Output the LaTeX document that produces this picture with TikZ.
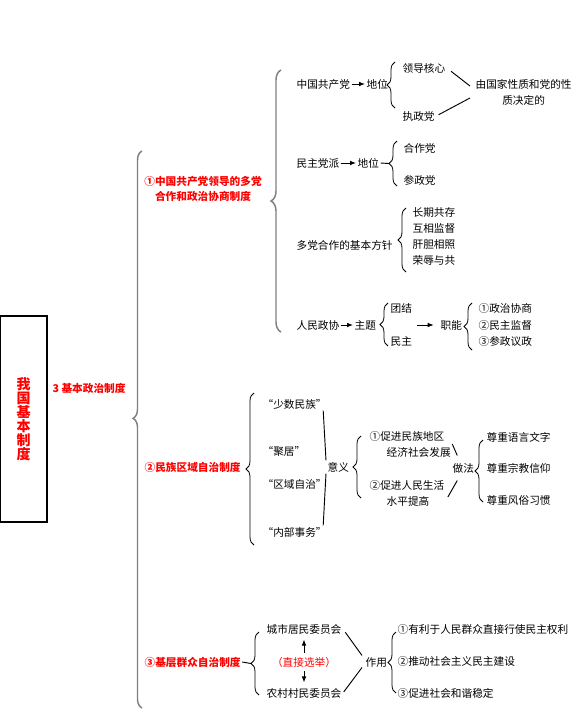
\documentclass[tikz,border=0pt]{standalone}
\usepackage{fontspec}
\setmainfont{Noto Sans CJK SC}
\usetikzlibrary{positioning,calc,arrows.meta,decorations.pathreplacing}
\definecolor{ink}{HTML}{000000}
\definecolor{hong}{HTML}{FF0000}
\definecolor{spine}{HTML}{808080}

\begin{document}
\begin{tikzpicture}[
    x=0.75pt, y=-0.75pt,
    txt/.style={font=\fontsize{8}{12}\selectfont, text=ink, inner sep=1pt, anchor=west},
    head/.style={txt, font=\fontsize{8}{11.25}\selectfont\bfseries, text=hong},
    title/.style={draw=ink, line width=1pt, minimum width=35.25pt, minimum height=154.5pt,
      font=\fontsize{10.5}{10.5}\selectfont\bfseries, text=hong, align=center, inner sep=0pt},
    link/.style={line width=0.7pt, draw=ink},
    flow/.style={link, -{Latex[length=4.5pt,width=3.5pt]}},
    brc/.style={decorate, decoration={brace, amplitude=6pt}, line width=0.6pt, draw=ink},
    bigbrc/.style={brc, line width=1.1pt, draw=spine},
  ]
  \useasboundingbox (0,0) rectangle (587,718);

  % ------------------------------------------------------------------ root
  \node[title] (root) at (23.5,419) {我\\国\\基\\本\\制\\度};
  \node[head] (polsys) at (51,388) {3 基本政治制度};

  \coordinate (trunkbot) at (142,708);
  \coordinate (trunktop) at (142,151);
  \draw[bigbrc, decoration={amplitude=6.75pt, aspect=0.52}] (trunkbot) -- (trunktop);

  % ---------------------------------------------------------- three systems
  \node[head, anchor=center, align=center] (coop) at (203,189) {①中国共产党领导的多党\\合作和政治协商制度};
  \node[head] (ethnic) at (143,467) {②民族区域自治制度};
  \node[head] (grass) at (143,662) {③基层群众自治制度};

  % ------------------------------------------------ multi-party cooperation
  \coordinate (coopbot) at (281,332);
  \coordinate (cooptop) at (281,70);
  \draw[bigbrc, decoration={amplitude=7.5pt}] (coopbot) -- (cooptop);

  \node[txt] (cpc) at (295,84) {中国共产党};
  \node[txt] (cpcpos) at (365,84) {地位};
  \coordinate (cpcbot) at (395,108);
  \coordinate (cpctop) at (395,62);
  \draw[brc] (cpcbot) -- (cpctop);
  \node[txt] (lead) at (401,68) {领导核心};
  \node[txt] (ruling) at (401,116) {执政党};
  \node[txt, align=center] (nature) at (474,92) {由国家性质和党的性\\质决定的};

  \node[txt] (dem) at (295,163) {民主党派};
  \node[txt] (dempos) at (356,163) {地位};
  \coordinate (dembot) at (397,186);
  \coordinate (demtop) at (397,141);
  \coordinate (demtip) at (389,163.5);
  \draw[brc] (dembot) -- (demtop);
  \node[txt] (partner) at (402,148) {合作党};
  \node[txt] (partake) at (402,180) {参政党};

  \node[txt] (policy) at (295,245) {多党合作的基本方针};
  \coordinate (policybot) at (406,272);
  \coordinate (policytop) at (406,208);
  \draw[brc] (policybot) -- (policytop);
  \node[txt] (coexist) at (411,212) {长期共存};
  \node[txt] (oversee) at (411,228) {互相监督};
  \node[txt] (candid) at (411,244) {肝胆相照};
  \node[txt] (share) at (411,260) {荣辱与共};

  \node[txt] (cppcc) at (295,325) {人民政协};
  \node[txt] (theme) at (353,325) {主题};
  \coordinate (themebot) at (388,346);
  \coordinate (themetop) at (388,303);
  \draw[brc] (themebot) -- (themetop);
  \node[txt] (unity) at (389,308) {团结};
  \node[txt] (democ) at (389,341) {民主};
  \coordinate (funcfrom) at (417,325);
  \node[txt] (func) at (439,325) {职能};
  \coordinate (funcbot) at (472,350);
  \coordinate (functop) at (472,303);
  \draw[brc] (funcbot) -- (functop);
  \node[txt] (consult) at (477,308) {①政治协商};
  \node[txt] (supervise) at (477,325) {②民主监督};
  \node[txt] (govern) at (477,341) {③参政议政};

  % ------------------------------------------------ regional ethnic autonomy
  \coordinate (ethnicbot) at (254,545);
  \coordinate (ethnictop) at (254,393);
  \draw[brc] (ethnicbot) -- (ethnictop);

  \node[txt] (minority) at (261,404) {“少数民族”};
  \node[txt] (settle) at (261,451) {“聚居”};
  \node[txt] (region) at (261,484) {“区域自治”};
  \node[txt] (affairs) at (261,532) {“内部事务”};
  \node[txt] (meaning) at (326,467) {意义};
  \coordinate (meaningbot) at (361,498);
  \coordinate (meaningtop) at (361,436);
  \draw[brc] (meaningbot) -- (meaningtop);
  \node[txt, align=left] (develop) at (368,444) {①促进民族地区\\\hspace*{1.6em}经济社会发展};
  \node[txt, align=left] (living) at (368,493) {②促进人民生活\\\hspace*{1.6em}水平提高};
  \node[txt] (method) at (451,468) {做法};
  \coordinate (methodbot) at (483,502);
  \coordinate (methodtop) at (483,440);
  \draw[brc] (methodbot) -- (methodtop);
  \node[txt] (language) at (485,437) {尊重语言文字};
  \node[txt] (religion) at (485,468) {尊重宗教信仰};
  \node[txt] (custom) at (485,500) {尊重风俗习惯};

  % ------------------------------------------- grassroots self-government
  \coordinate (grassbot) at (259,695);
  \coordinate (grasstop) at (259,632);
  \coordinate (grasstip) at (251,663.5);
  \draw[brc] (grassbot) -- (grasstop);

  \node[txt, anchor=center] (city) at (304,629) {城市居民委员会};
  \node[txt, anchor=center, text=hong] (direct) at (304,662) {（直接选举）};
  \node[txt, anchor=center] (village) at (304,693) {农村村民委员会};
  \node[txt] (role) at (364,662) {作用};
  \coordinate (rolebot) at (396,693);
  \coordinate (roletop) at (396,632);
  \draw[brc] (rolebot) -- (roletop);
  \node[txt] (rights) at (396,629) {①有利于人民群众直接行使民主权利};
  \node[txt] (build) at (396,661) {②推动社会主义民主建设};
  \node[txt] (harmony) at (396,693) {③促进社会和谐稳定};

  % ------------------------------------------------------------------ arrows
  \draw[flow] (cpc) -- (cpcpos);
  \draw[link, shorten <=4pt] (lead.east) -- ($(nature.west)+(-4,-6)$);
  \draw[link, shorten <=2pt] (ruling.east) -- ($(nature.west)+(-4,6)$);
  \draw[flow] (dem) -- (dempos);
  \draw[link] (dempos.east) -- (demtip);
  \draw[flow] (cppcc) -- (theme);
  \draw[flow, shorten >=4pt] (funcfrom) -- (func);
  \draw[link] ($(minority.south east)+(-5,0)$) -- (meaning.north west);
  \draw[link] ($(affairs.north east)+(-5,0)$) -- (meaning.south west);
  \draw[link] (develop.east) -- ($(method.north)+(-6,-6)$);
  \draw[link] ($(living.east)+(2,4)$) -- ($(method.south)+(-6,6)$);
  \draw[link] (grass.east) -- (grasstip);
  \draw[flow, shorten <=2pt, shorten >=3pt] (direct) -- (city);
  \draw[flow, shorten <=2pt, shorten >=3pt] (direct) -- (village);
  \draw[link, shorten <=3pt] (city.east) -- ($(role.north west)+(-2,0)$);
  \draw[link, shorten <=1pt] (village.east) -- ($(role.south west)+(-2,-1)$);
\end{tikzpicture}
\end{document}
